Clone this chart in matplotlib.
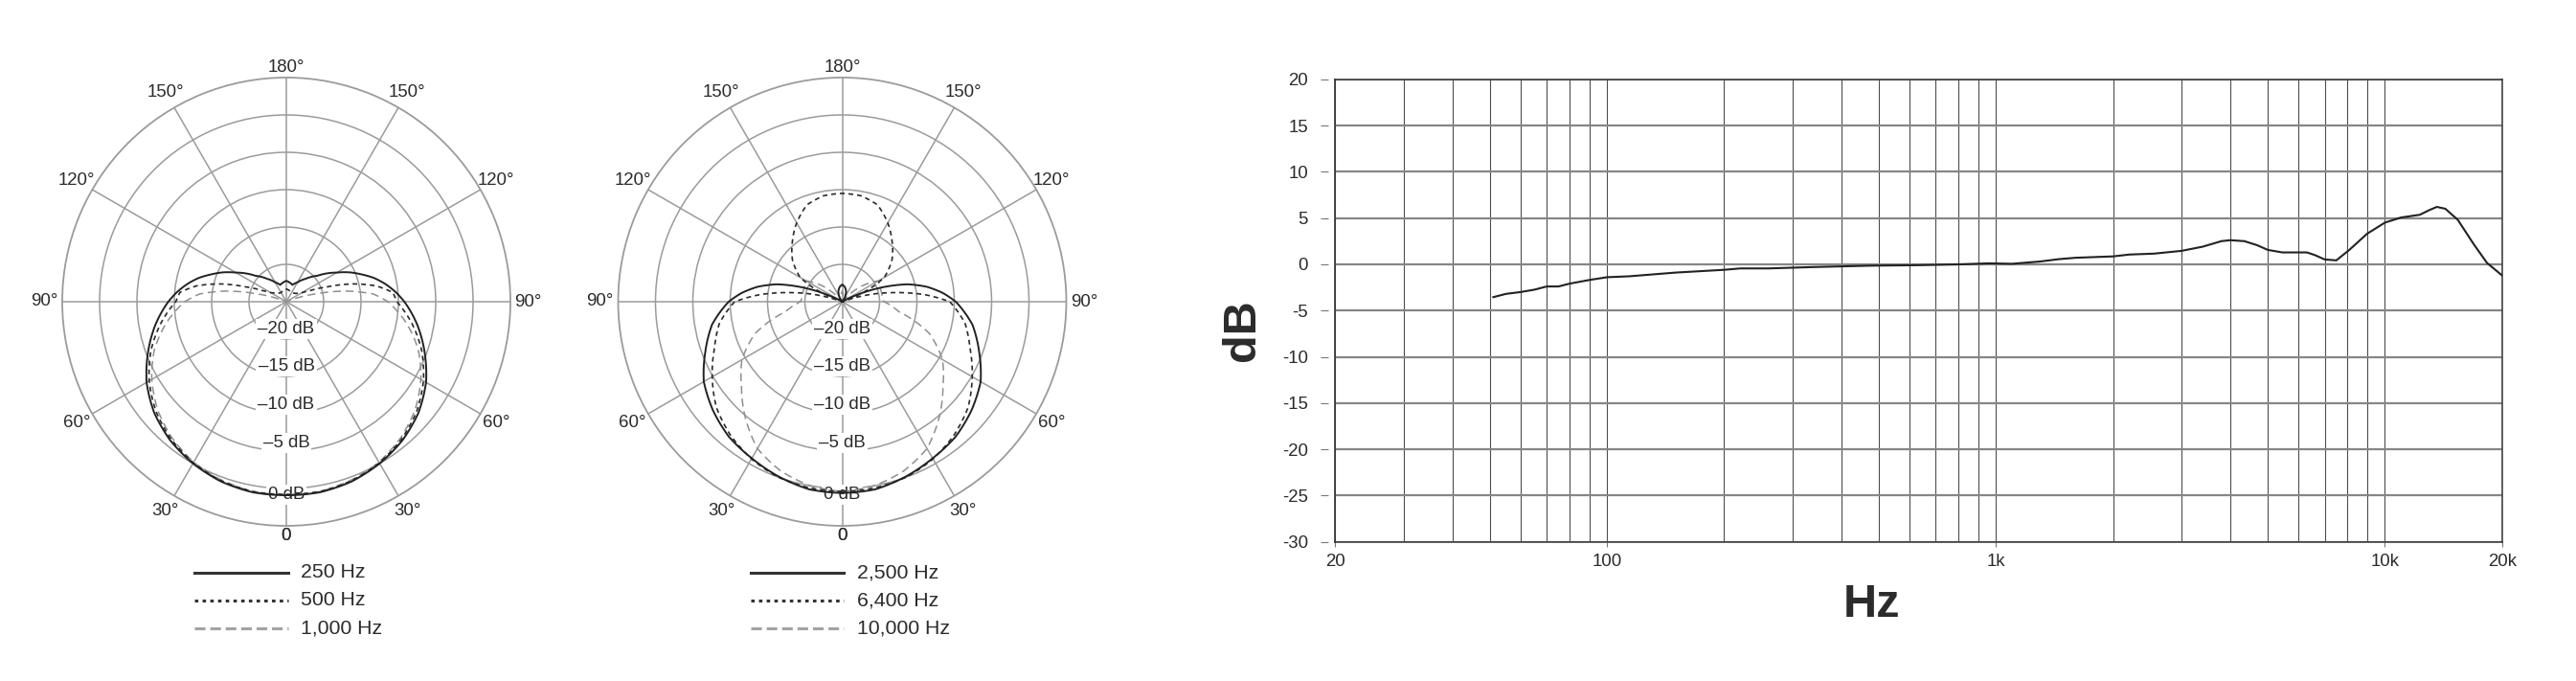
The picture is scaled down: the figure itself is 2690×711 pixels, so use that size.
import numpy as np
import matplotlib
matplotlib.use("Agg")
import matplotlib.pyplot as plt
from matplotlib.lines import Line2D
from matplotlib.ticker import NullFormatter

plt.rcParams['font.family'] = ['Liberation Sans', 'DejaVu Sans']
plt.rcParams['lines.scale_dashes'] = False

W, H = 2690, 711

# polar data: angle from front (deg), response in dB (pattern is symmetric)
angles = [0, 10, 20, 30, 40, 50, 60, 70, 80, 90, 95, 100, 105, 110, 115,
          120, 130, 140, 150, 160, 170, 180]
db_250 = [0.9, 0.9, 0.6, 0.0, -0.8, -1.9, -3.4, -5.3, -7.2, -9.2, -10.3, -11.5,
          -12.8, -14.3, -15.7, -17.2, -19.6, -21.0, -22.0, -22.6, -22.4, -22.2]
db_500 = [0.8, 0.8, 0.5, -0.1, -1.0, -2.2, -3.8, -5.7, -7.9, -10.2, -10.7, -12.8,
          -15.8, -19.2, -21.5, -22.6, -23.3, -23.5, -23.6, -23.5, -23.4, -23.3]
db_1000 = [0.8, 0.8, 0.4, -0.2, -1.2, -2.5, -4.2, -6.2, -8.7, -11.4, -13.3, -16.8,
           -21.0, -24.0, -25.0, -25.0, -25.0, -25.0, -25.0, -25.0, -25.0, -25.0]
db_2500 = [0.6, 0.5, -0.1, -0.8, -1.4, -2.4, -3.6, -5.5, -7.3, -9.8, -11.5, -13.5,
           -16.0, -19.5, -23.0, -25.0, -25.0, -25.0, -24.2, -23.5, -23.0, -22.7]
db_6400 = [0.4, 0.3, 0.0, -0.7, -1.7, -3.0, -4.9, -6.8, -8.3, -10.6, -14.0, -18.0,
           -21.5, -25.0, -21.0, -18.5, -16.3, -14.6, -12.8, -11.2, -10.6, -10.5]
db_10000 = [0.4, 0.0, -0.9, -2.3, -4.8, -7.4, -9.5, -12.6, -17.3, -19.4, -19.6, -19.6,
            -19.6, -19.6, -19.5, -19.4, -22.0, -25.0, -25.0, -25.0, -24.2, -23.6]

ring_db = [-20, -15, -10, -5, 0]
ring_labels = ['\u201320 dB', '\u201315 dB', '\u201310 dB', '\u20135 dB', '0 dB']
deg_ticks = [0, 30, 60, 90, 120, 150, 180]
deg_labels = ['0', '30\u00b0', '60\u00b0', '90\u00b0', '120\u00b0', '150\u00b0', '180\u00b0']

# frequency response
freq = [51, 55, 60, 65, 70, 75, 80, 90, 100, 114, 150, 200, 220, 260, 340, 480,
        630, 820, 960, 1100, 1300, 1450, 1600, 2000, 2200, 2550, 3000, 3400,
        3800, 4000, 4350, 4700, 5000, 5450, 6300, 6600, 7000, 7500, 8100, 9000,
        10000, 11000, 12300, 13000, 13600, 14300, 15400, 16900, 18300, 20000]
resp = [-3.55, -3.2, -3.0, -2.75, -2.4, -2.4, -2.1, -1.7, -1.4, -1.3, -0.9, -0.6,
        -0.45, -0.45, -0.3, -0.15, -0.1, 0.0, 0.1, 0.05, 0.3, 0.55, 0.7, 0.85,
        1.05, 1.15, 1.45, 1.9, 2.5, 2.6, 2.5, 2.05, 1.55, 1.28, 1.28, 1.0, 0.52,
        0.42, 1.55, 3.3, 4.5, 5.05, 5.35, 5.85, 6.2, 6.0, 4.8, 2.2, 0.15, -1.2]
x_major = [20, 100, 1000, 10000, 20000]
x_major_labels = ['20', '100', '1k', '10k', '20k']
y_ticks = list(range(-30, 25, 5))

GRID = '#9b9b9b'
TEXT = '#2b2b2b'
R_PX = 234

fig = plt.figure(figsize=(W / 100, H / 100), dpi=100)


def mirror(vals):
    return list(vals) + list(vals[-2::-1])


theta = np.deg2rad(mirror(angles))
theta[len(angles):] = 2 * np.pi - theta[len(angles):]


def polar_plot(cx, cy, curves):
    ax = fig.add_axes([(cx - R_PX) / W, 1 - (cy + R_PX) / H,
                       2 * R_PX / W, 2 * R_PX / H], projection='polar')
    ax.set_theta_zero_location('S')
    ax.set_rlim(-25, 5)
    ax.set_thetagrids(range(0, 360, 30), labels=[''] * 12)
    ax.set_rgrids(ring_db, labels=[''] * len(ring_db))
    ax.grid(True, color=GRID, lw=1.1)
    ax.set_axisbelow(True)
    ax.tick_params(length=0)
    ax.spines['polar'].set_color(GRID)
    ax.spines['polar'].set_linewidth(1.3)
    ax.patch.set_alpha(0)

    # ring labels along the front axis
    for rpos, lab in zip([-21.4, -16.3, -11.2, -6.1, 0.8], ring_labels):
        ax.text(0, rpos, lab, ha='center', va='center', fontsize=13.4,
                color=TEXT, zorder=2.2,
                bbox=dict(fc='white', ec='none', pad=1.5))

    # angle labels on both sides
    for a, lab in zip(deg_ticks, deg_labels):
        rr = 6.4 if a in (0, 180) else 7.4
        for t in {a, 360 - a}:
            ax.text(np.deg2rad(t), rr, lab, ha='center', va='center',
                    fontsize=13.4, color=TEXT)

    for vals, style in curves:
        line, = ax.plot(theta, mirror(vals), zorder=3, **style)
        # draw segments as arcs in polar space rather than chords
        line.get_path()._interpolation_steps = 24
    return ax


solid = dict(color='#222222', lw=1.4)
dotted = dict(color='#2a2a2a', lw=1.2, dashes=(3.6, 2.9))
dashed = dict(color='#8f8f8f', lw=1.1, dashes=(6.0, 3.6))

polar_plot(299, 315, [(db_1000, dashed), (db_500, dotted), (db_250, solid)])
polar_plot(879.5, 315, [(db_10000, dashed), (db_6400, dotted), (db_2500, solid)])

# legends under the polar plots
leg_rows = [597.7, 626.7, 655.7]
leg_styles = [dict(color='#333333', lw=2.2),
              dict(color='#333333', lw=2.2, dashes=(2.6, 3.2)),
              dict(color='#a3a3a3', lw=2.2, dashes=(8.0, 3.6))]
for x0, x1, xt, labels in [(203, 300.5, 314, ['250 Hz', '500 Hz', '1,000 Hz']),
                           (784, 880.7, 894.6, ['2,500 Hz', '6,400 Hz', '10,000 Hz'])]:
    for y, lab, st in zip(leg_rows, labels, leg_styles):
        fig.add_artist(Line2D([x0 / W, x1 / W], [1 - y / H, 1 - y / H],
                              transform=fig.transFigure, **st))
        fig.text(xt / W, 1 - y / H, lab, ha='left', va='center',
                 fontsize=15.3, color=TEXT)

# frequency response
left, right, top, bottom = 1394.3, 2612.7, 82.7, 565.7
ax = fig.add_axes([left / W, 1 - bottom / H, (right - left) / W, (bottom - top) / H])
ax.set_xscale('log')
ax.set_xlim(20, 20000)
ax.set_ylim(-30, 20)
ax.set_xticks(x_major)
ax.set_xticklabels(x_major_labels)
x_minor = [m * 10 ** e for e in (1, 2, 3) for m in range(2, 10)
           if 20 < m * 10 ** e < 20000 and m * 10 ** e not in x_major]
ax.set_xticks(x_minor, minor=True)
ax.xaxis.set_minor_formatter(NullFormatter())
ax.set_yticks(y_ticks)
ax.set_yticklabels([str(v) for v in y_ticks])

ax.grid(axis='x', which='both', color='#4d4d4d', lw=0.8)
ax.grid(axis='y', which='major', color='#868686', lw=1.6)
ax.set_axisbelow(True)

ax.spines['left'].set_position(('outward', 5))
ax.spines['left'].set_visible(False)
ax.axvline(20, color='#333333', lw=1.2, clip_on=False)
for side in ('top', 'bottom', 'right'):
    ax.spines[side].set_color('#333333')
    ax.spines[side].set_linewidth(1.1)

ax.tick_params(axis='y', length=5.8, width=0.8, color='#777777', pad=9.6,
               labelsize=13.4, labelcolor=TEXT)
ax.tick_params(axis='x', which='major', length=3.6, width=0.8, color='#777777',
               pad=5, labelsize=13.4, labelcolor=TEXT)
ax.tick_params(axis='x', which='minor', length=0)

ax.plot(freq, resp, color='#222222', lw=1.5, zorder=3)

fig.text(1297 / W, 1 - 345 / H, 'dB', rotation=90, ha='center', va='center',
         fontsize=35, fontweight='bold', color=TEXT)
fig.text(1955 / W, 1 - 631 / H, 'Hz', ha='center', va='center',
         fontsize=35, fontweight='bold', color=TEXT)

fig.savefig('out.png', dpi=100, facecolor='white')
